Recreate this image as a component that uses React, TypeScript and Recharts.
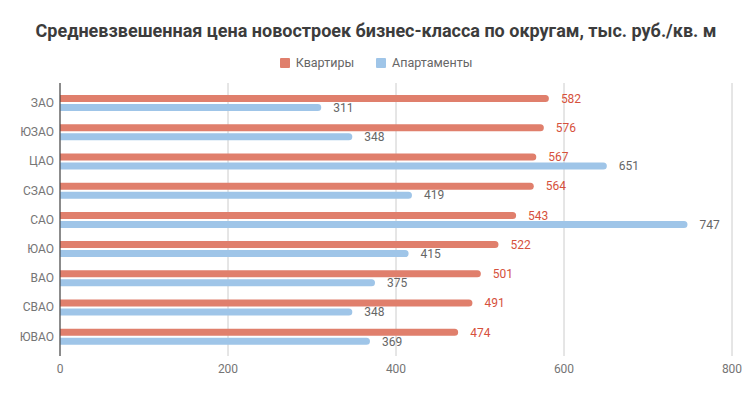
import React from 'react';
import { BarChart, Bar, XAxis, YAxis, CartesianGrid, LabelList } from 'recharts';

const districts = ['ЗАО', 'ЮЗАО', 'ЦАО', 'СЗАО', 'САО', 'ЮАО', 'ВАО', 'СВАО', 'ЮВАО'];
const flats = [582, 576, 567, 564, 543, 522, 501, 491, 474];
const apartments = [311, 348, 651, 419, 747, 415, 375, 348, 369];
const xTicks = [0, 200, 400, 600, 800];

const RED = '#e07f6c';
const BLUE = '#9fc5e8';
const FONT = 'Roboto, sans-serif';

const data = districts.map((d, i) => ({ name: d, flats: flats[i], apartments: apartments[i] }));

export default function App() {
  return (
    <div style={{ position: 'absolute', left: 0, top: 0, width: 752, height: 397, background: '#fff', fontFamily: FONT }}>
      <div style={{ position: 'absolute', top: 20, width: 752, textAlign: 'center', fontSize: 18, fontWeight: 700, color: '#3c3c3c' }}>
        Средневзвешенная цена новостроек бизнес-класса по округам, тыс. руб./кв. м
      </div>
      <div style={{ position: 'absolute', top: 55, width: 752, display: 'flex', justifyContent: 'center', fontSize: 12.5, color: '#666' }}>
        <span style={{ display: 'flex', alignItems: 'center', marginRight: 22 }}>
          <span style={{ width: 10, height: 10, background: RED, borderRadius: 1, marginRight: 6 }} />
          Квартиры
        </span>
        <span style={{ display: 'flex', alignItems: 'center' }}>
          <span style={{ width: 10, height: 10, background: BLUE, borderRadius: 1, marginRight: 6 }} />
          Апартаменты
        </span>
      </div>
      <BarChart
        width={752}
        height={397}
        data={data}
        layout="vertical"
        margin={{ top: 83, right: 20, left: 0, bottom: 0 }}
        barSize={7}
        barGap={2}
        style={{ position: 'absolute', left: 0, top: 0 }}
      >
        <CartesianGrid horizontal={false} stroke="#ccc" />
        <XAxis
          type="number"
          domain={[0, 800]}
          ticks={xTicks}
          axisLine={false}
          tickLine={false}
          height={41}
          tick={{ fontSize: 12, fill: '#757575', fontFamily: FONT }}
        />
        <YAxis
          type="category"
          dataKey="name"
          width={60}
          axisLine={{ stroke: '#333' }}
          tickLine={false}
          tickSize={0}
          tickMargin={6}
          padding={{ top: 5, bottom: 5 }}
          tick={{ fontSize: 12, fill: '#757575', fontFamily: FONT }}
        />
        <Bar dataKey="flats" fill={RED} radius={[0, 4, 4, 0]} isAnimationActive={false}>
          <LabelList dataKey="flats" position="right" offset={12} fill="#d6513c" fontSize={12} fontFamily={FONT} />
        </Bar>
        <Bar dataKey="apartments" fill={BLUE} radius={[0, 4, 4, 0]} isAnimationActive={false}>
          <LabelList dataKey="apartments" position="right" offset={12} fill="#666" fontSize={12} fontFamily={FONT} />
        </Bar>
      </BarChart>
    </div>
  );
}
